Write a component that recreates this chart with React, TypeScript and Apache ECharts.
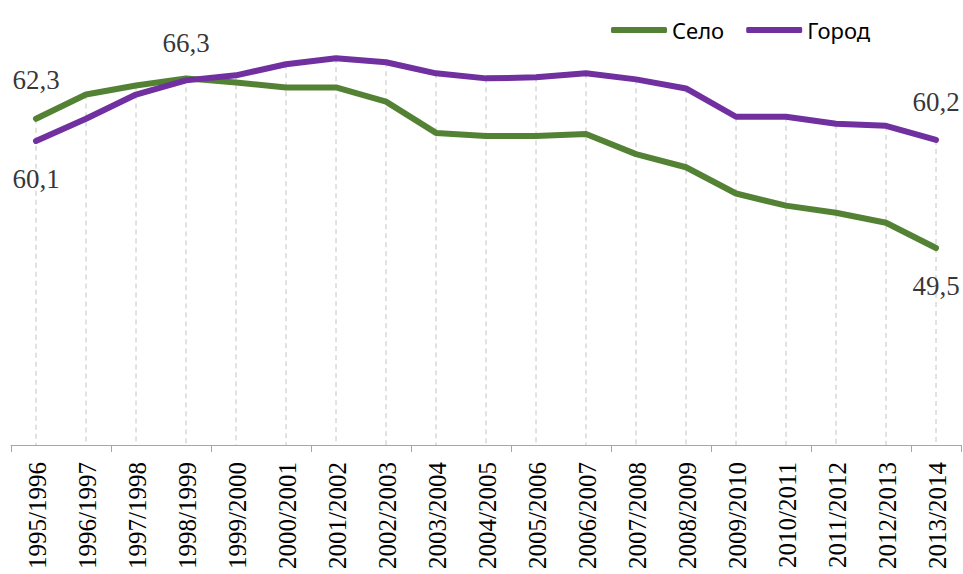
import React, { useEffect, useRef } from "react";
import * as echarts from "echarts";

const categories = [
  "1995/1996", "1996/1997", "1997/1998", "1998/1999", "1999/2000",
  "2000/2001", "2001/2002", "2002/2003", "2003/2004", "2004/2005",
  "2005/2006", "2006/2007", "2007/2008", "2008/2009", "2009/2010",
  "2010/2011", "2011/2012", "2012/2013", "2013/2014",
];
const selo = [62.3, 64.7, 65.6, 66.3, 65.9, 65.4, 65.4, 64.0, 60.9, 60.6, 60.6, 60.8, 58.8, 57.5, 54.9, 53.7, 53.0, 52.0, 49.5];
const gorod = [60.1, 62.3, 64.7, 66.1, 66.6, 67.7, 68.3, 67.9, 66.8, 66.3, 66.4, 66.8, 66.2, 65.3, 62.5, 62.5, 61.8, 61.6, 60.2];
const seriesNames = ["Село", "Город"];
const Y_MIN = 30;
const Y_MAX = 70;

const SERIF = "Liberation Serif";

// labelled points: [series, index, position, distance]
const labelledPoints: Array<[number, number, string, number]> = [
  [0, 0, "top", 25],
  [0, 3, "top", 21],
  [0, 18, "bottom", 24],
  [1, 0, "bottom", 24],
  [1, 18, "top", 24],
];

const fmt = (v: number) => v.toFixed(1).replace(".", ",");

export default function App() {
  const ref = useRef<HTMLDivElement>(null);
  useEffect(() => {
    if (!ref.current) return;
    const chart = echarts.init(ref.current, undefined, { renderer: "svg" });
    const drop = categories.map((_, i) => [i, Math.max(selo[i], gorod[i])]);
    const axisLabelData = categories.map((_, i) => [i, Y_MIN]);
    const all = [selo, gorod];
    const labelData = labelledPoints.map(([s, i, pos, dist]) => ({
      value: [i, all[s][i]],
      label: {
        show: true,
        position: pos,
        distance: dist,
        formatter: fmt(all[s][i]),
        fontFamily: SERIF,
        fontSize: 27,
        color: "#000",
      },
    }));
    chart.setOption({
      animation: false,
      backgroundColor: "#fff",
      textStyle: { fontFamily: SERIF },
      grid: { left: 11, right: 2, top: 41, bottom: 129, containLabel: false },
      legend: {
        data: seriesNames,
        left: 606,
        top: 14,
        icon: "roundRect",
        itemWidth: 56,
        itemHeight: 6,
        itemGap: 22,
        itemTextGap: 4,
        textStyle: { fontFamily: "Noto Sans", fontSize: 22, color: "#000" },
      },
      xAxis: {
        type: "category",
        data: categories,
        boundaryGap: true,
        axisLine: { show: true, lineStyle: { color: "#a6a6a6", width: 1 } },
        axisTick: { show: true, length: 7, lineStyle: { color: "#a6a6a6", width: 1 } },
        axisLabel: { show: false },
        splitLine: { show: false },
      },
      yAxis: { type: "value", min: Y_MIN, max: Y_MAX, show: false, splitLine: { show: false } },
      series: [
        {
          type: "custom",
          name: "drop",
          z: 1,
          silent: true,
          encode: { x: 0, y: 1 },
          data: drop,
          renderItem: (params: any, api: any) => {
            const i = api.value(0);
            const top = api.coord([i, api.value(1)]);
            const bottom = api.coord([i, Y_MIN]);
            return {
              type: "line",
              shape: { x1: top[0], y1: top[1], x2: bottom[0], y2: bottom[1] },
              style: { stroke: "#c4c4c4", lineWidth: 1, lineDash: [5, 4] },
            };
          },
        },
        {
          type: "custom",
          name: "axisLabels",
          z: 2,
          silent: true,
          clip: false,
          encode: { x: 0, y: 1 },
          data: axisLabelData,
          renderItem: (params: any, api: any) => {
            const i = api.value(0);
            const p = api.coord([i, Y_MIN]);
            return {
              type: "text",
              x: p[0] + 1,
              y: p[1] + 17,
              rotation: Math.PI / 2,
              style: {
                text: categories[params.dataIndex],
                fontFamily: SERIF,
                fontSize: 25,
                fill: "#000",
                align: "right",
                verticalAlign: "middle",
              },
            };
          },
        },
        {
          type: "line",
          name: seriesNames[0],
          z: 3,
          data: selo,
          symbol: "none",
          lineStyle: { color: "#548235", width: 6, cap: "round", join: "round" },
          itemStyle: { color: "#548235" },
        },
        {
          type: "line",
          name: seriesNames[1],
          z: 4,
          data: gorod,
          symbol: "none",
          lineStyle: { color: "#7030a0", width: 6, cap: "round", join: "round" },
          itemStyle: { color: "#7030a0" },
        },
        {
          type: "scatter",
          name: "labels",
          z: 5,
          silent: true,
          symbolSize: 1,
          itemStyle: { color: "rgba(0,0,0,0)" },
          data: labelData,
        },
      ],
    });
    return () => chart.dispose();
  }, []);
  return (
    <div
      ref={ref}
      style={{ position: "fixed", left: 0, top: 0, width: 963, height: 574 }}
    />
  );
}
